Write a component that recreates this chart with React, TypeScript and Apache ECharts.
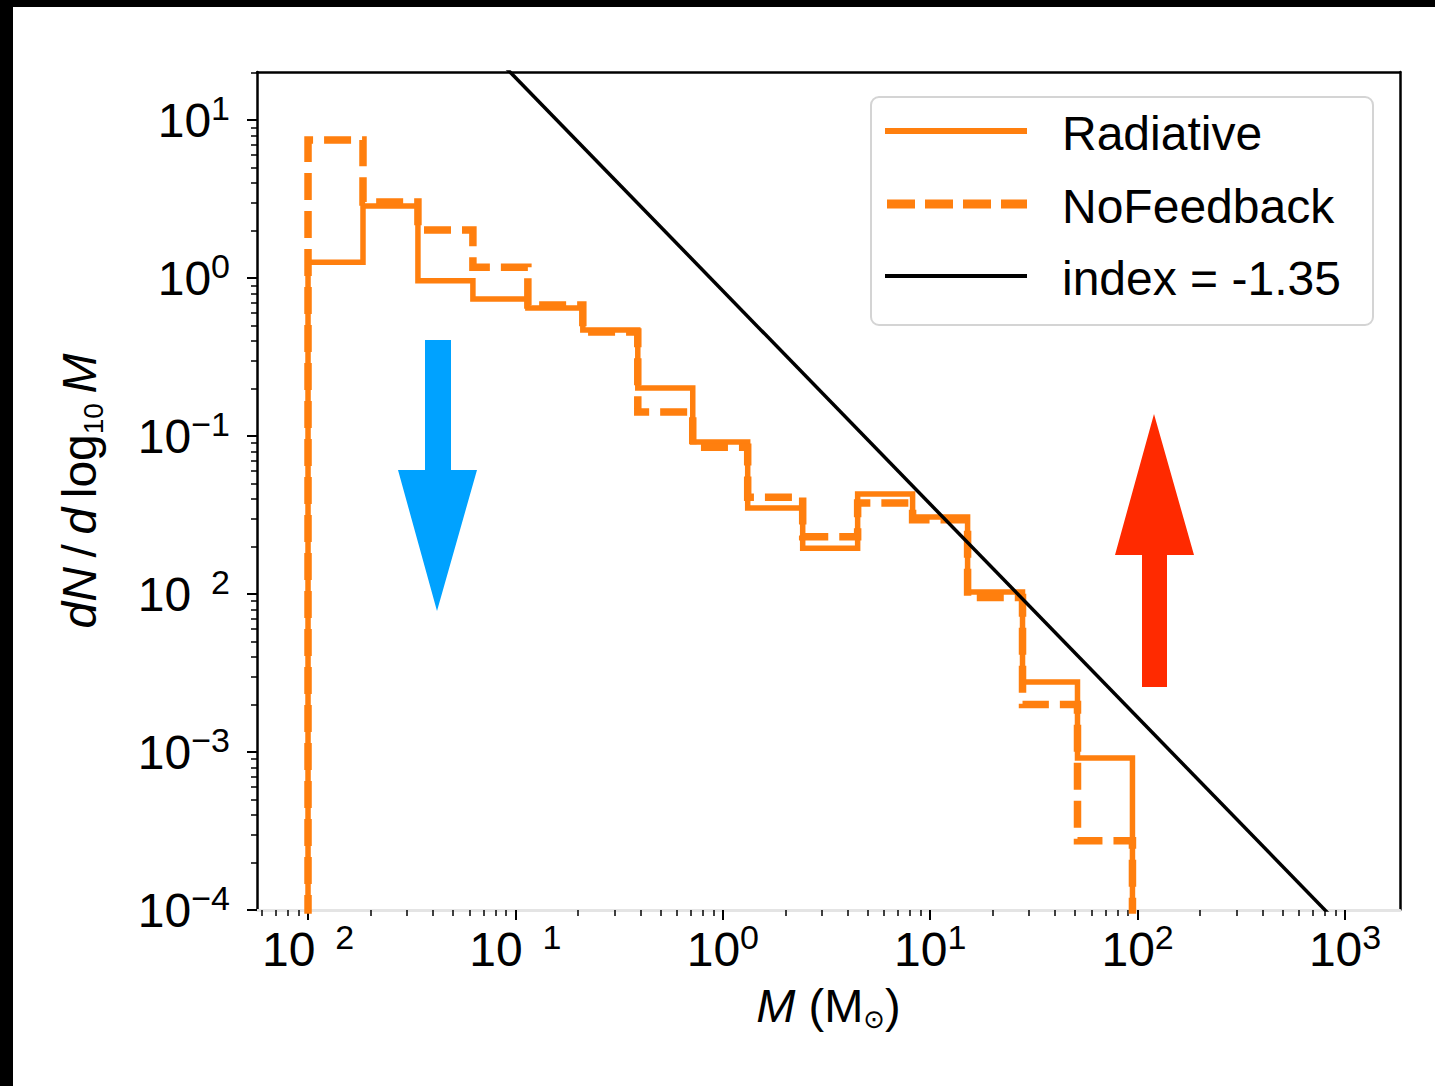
import React, { useEffect, useRef } from "react";
import * as echarts from "echarts";

// Histogram bin edges (M in solar masses) and dN/dlog10M values
const binEdges = [0.01, 0.01841, 0.03388, 0.06237, 0.1148, 0.2113, 0.389, 0.7161, 1.318, 2.427, 4.467, 8.222, 15.14, 27.86, 51.29, 94.41];
const radiative = [1.26, 2.86, 0.96, 0.736, 0.646, 0.469, 0.201, 0.0916, 0.035, 0.0195, 0.043, 0.0307, 0.0103, 0.00277, 0.000916];
const noFeedback = [7.47, 3.03, 2.01, 1.17, 0.675, 0.455, 0.142, 0.085, 0.041, 0.023, 0.0377, 0.0295, 0.0095, 0.002, 0.000274];

// Power-law reference line: dN/dlogM = norm * M^index
const powerIndex = -1.35;
const powerNorm = 0.83;
const powerMass = [0.004, 3000];

// Axis ranges (log10) and major tick exponents
const xRange = [-2.246, 3.265];
const yRange = [-4, 1.304];
const xMajor = [-2, -1, 0, 1, 2, 3];
const yMajor = [-4, -3, -2, -1, 0, 1];
const xHiddenMinus = [-2, -1];
const yHiddenMinus = [-2];

const seriesNames = ["Radiative", "NoFeedback", "index = -1.35"];

const FONT = "Liberation Sans";
const ORANGE = "#ff7f0e";

const lg = (v: number) => Math.log10(v);

function stepPoints(edges: number[], vals: number[]) {
  const floor = yRange[0] - 2;
  const pts: number[][] = [[lg(edges[0]), floor]];
  vals.forEach((v, i) => {
    pts.push([lg(edges[i]), lg(v)]);
    pts.push([lg(edges[i + 1]), lg(v)]);
  });
  pts.push([lg(edges[edges.length - 1]), floor]);
  return pts;
}

function minorTicks(range: number[]) {
  const out: number[] = [];
  for (let n = Math.floor(range[0]); n <= Math.ceil(range[1]); n++) {
    for (let k = 2; k <= 9; k++) {
      const v = n + Math.log10(k);
      if (v >= range[0] && v <= range[1]) out.push(v);
    }
  }
  return out;
}

function labelFormatter(hidden: number[]) {
  return (v: number) => {
    const e = Math.round(v);
    if (e < 0 && hidden.includes(e)) return `{b|10}{h|\u2212}{s|${-e}}`;
    if (e < 0) return `{b|10}{s|\u2212${-e}}`;
    return `{b|10}{s|${e}}`;
  };
}

const tickRich = {
  b: { fontFamily: FONT, fontSize: 48, lineHeight: 58, color: "#000" },
  s: { fontFamily: FONT, fontSize: 34, lineHeight: 34, verticalAlign: "top", color: "#000" },
  h: { fontFamily: FONT, fontSize: 34, lineHeight: 34, verticalAlign: "top", color: "rgba(0,0,0,0)" },
};

export default function App() {
  const ref = useRef<HTMLDivElement>(null);

  useEffect(() => {
    document.body.style.margin = "0";
    if (!ref.current) return;
    const chart = echarts.init(ref.current, undefined, { renderer: "svg" });

    const linePts = powerMass.map((m) => [lg(m), lg(powerNorm * Math.pow(m, powerIndex))]);

    const legendX = 885;
    const legendTextX = 1062;
    const legendYs = [131, 204, 276];

    chart.setOption({
      animation: false,
      backgroundColor: "#fff",
      grid: { left: 257, top: 72, right: 35, bottom: 176, containLabel: false },
      xAxis: [
        {
          type: "value",
          min: xRange[0],
          max: xRange[1],
          position: "bottom",
          splitLine: { show: false },
          axisLine: { show: true, onZero: false, lineStyle: { color: "#e4e4e4", width: 3 } },
          axisTick: { show: true, customValues: xMajor, length: 10, lineStyle: { color: "#000", width: 2 } },
          axisLabel: {
            show: true,
            customValues: xMajor,
            margin: 10,
            formatter: labelFormatter(xHiddenMinus),
            rich: tickRich,
          },
          name: "{i|M}{r| (M}{sub|\u2299}{r|)}",
          nameLocation: "middle",
          nameGap: 68,
          nameTextStyle: {
            rich: {
              i: { fontFamily: FONT, fontStyle: "italic", fontSize: 47, lineHeight: 54, color: "#000" },
              r: { fontFamily: FONT, fontSize: 47, lineHeight: 54, color: "#000" },
              sub: { fontFamily: "DejaVu Sans", fontSize: 26, lineHeight: 26, verticalAlign: "bottom", color: "#000" },
            },
          },
        },
        {
          type: "value",
          min: xRange[0],
          max: xRange[1],
          position: "bottom",
          splitLine: { show: false },
          axisLine: { show: false, onZero: false },
          axisTick: { show: true, customValues: minorTicks(xRange), length: 6, lineStyle: { color: "#000", width: 1.5 } },
          axisLabel: { show: false },
        },
        {
          type: "value",
          min: xRange[0],
          max: xRange[1],
          position: "top",
          splitLine: { show: false },
          axisLine: { show: true, onZero: false, lineStyle: { color: "#000", width: 2.5 } },
          axisTick: { show: false },
          axisLabel: { show: false },
        },
      ],
      yAxis: [
        {
          type: "value",
          min: yRange[0],
          max: yRange[1],
          position: "left",
          splitLine: { show: false },
          axisLine: { show: true, onZero: false, lineStyle: { color: "#000", width: 2.5 } },
          axisTick: { show: true, customValues: yMajor, length: 10, lineStyle: { color: "#000", width: 2 } },
          axisLabel: {
            show: true,
            customValues: yMajor,
            margin: 27,
            formatter: labelFormatter(yHiddenMinus),
            rich: tickRich,
          },
          name: "{i|dN}{r|\u2009/\u2009}{i|d}{r|\u2009log}{sub|10}{i|\u2009M}",
          nameLocation: "middle",
          nameRotate: 90,
          nameGap: 150,
          nameTextStyle: {
            rich: {
              i: { fontFamily: FONT, fontStyle: "italic", fontSize: 48, lineHeight: 56, color: "#000" },
              r: { fontFamily: FONT, fontSize: 48, lineHeight: 56, color: "#000" },
              sub: { fontFamily: FONT, fontSize: 28, lineHeight: 28, verticalAlign: "bottom", color: "#000" },
            },
          },
        },
        {
          type: "value",
          min: yRange[0],
          max: yRange[1],
          position: "left",
          splitLine: { show: false },
          axisLine: { show: false, onZero: false },
          axisTick: { show: true, customValues: minorTicks(yRange), length: 6, lineStyle: { color: "#000", width: 1.5 } },
          axisLabel: { show: false },
        },
        {
          type: "value",
          min: yRange[0],
          max: yRange[1],
          position: "right",
          splitLine: { show: false },
          axisLine: { show: true, onZero: false, lineStyle: { color: "#000", width: 2.5 } },
          axisTick: { show: false },
          axisLabel: { show: false },
        },
      ],
      series: [
        {
          name: seriesNames[0],
          type: "line",
          xAxisIndex: 0,
          yAxisIndex: 0,
          data: stepPoints(binEdges, radiative),
          showSymbol: false,
          clip: true,
          lineStyle: { color: ORANGE, width: 5.5, cap: "butt", join: "miter" },
          z: 2,
        },
        {
          name: seriesNames[1],
          type: "line",
          xAxisIndex: 0,
          yAxisIndex: 0,
          data: stepPoints(binEdges, noFeedback),
          showSymbol: false,
          clip: true,
          lineStyle: { color: ORANGE, width: 7.5, type: [27, 11], cap: "butt", join: "miter" },
          z: 3,
        },
        {
          name: seriesNames[2],
          type: "line",
          xAxisIndex: 0,
          yAxisIndex: 0,
          data: linePts,
          showSymbol: false,
          clip: true,
          lineStyle: { color: "#000", width: 3.5 },
          z: 4,
        },
      ],
      graphic: [
        // photo frame edges
        { type: "rect", shape: { x: 0, y: 0, width: 1435, height: 7 }, style: { fill: "#000" }, z: 200 },
        { type: "rect", shape: { x: 0, y: 0, width: 13, height: 1086 }, style: { fill: "#000" }, z: 200 },
        // blue arrow (down)
        {
          type: "polygon",
          shape: { points: [[425, 340], [451, 340], [451, 470], [477, 470], [437, 611], [398, 470], [425, 470]] },
          style: { fill: "#00a2ff" },
          z: 50,
        },
        // red arrow (up)
        {
          type: "polygon",
          shape: { points: [[1142, 687], [1167, 687], [1167, 555], [1194, 555], [1154, 414], [1115, 555], [1142, 555]] },
          style: { fill: "#ff2a00" },
          z: 50,
        },
        // legend
        {
          type: "rect",
          shape: { x: 871, y: 97, width: 502, height: 228, r: 8 },
          style: { fill: "rgba(255,255,255,0.85)", stroke: "#d4d4d4", lineWidth: 2 },
          z: 100,
        },
        {
          type: "line",
          shape: { x1: legendX, y1: legendYs[0], x2: 1027, y2: legendYs[0] },
          style: { stroke: ORANGE, lineWidth: 6 },
          z: 101,
        },
        {
          type: "line",
          shape: { x1: legendX + 2, y1: legendYs[1], x2: 1027, y2: legendYs[1] },
          style: { stroke: ORANGE, lineWidth: 9, lineDash: [28, 10], lineCap: "butt" },
          z: 101,
        },
        {
          type: "line",
          shape: { x1: legendX, y1: legendYs[2], x2: 1027, y2: legendYs[2] },
          style: { stroke: "#000", lineWidth: 4 },
          z: 101,
        },
        ...seriesNames.map((n, i) => ({
          type: "text",
          x: legendTextX,
          y: legendYs[i] + 2,
          style: {
            text: n,
            fontFamily: FONT,
            fontSize: 48,
            fill: "#000",
            align: "left",
            verticalAlign: "middle",
          },
          z: 101,
        })),
      ],
    });

    return () => chart.dispose();
  }, []);

  return <div ref={ref} style={{ width: 1435, height: 1086 }} />;
}
